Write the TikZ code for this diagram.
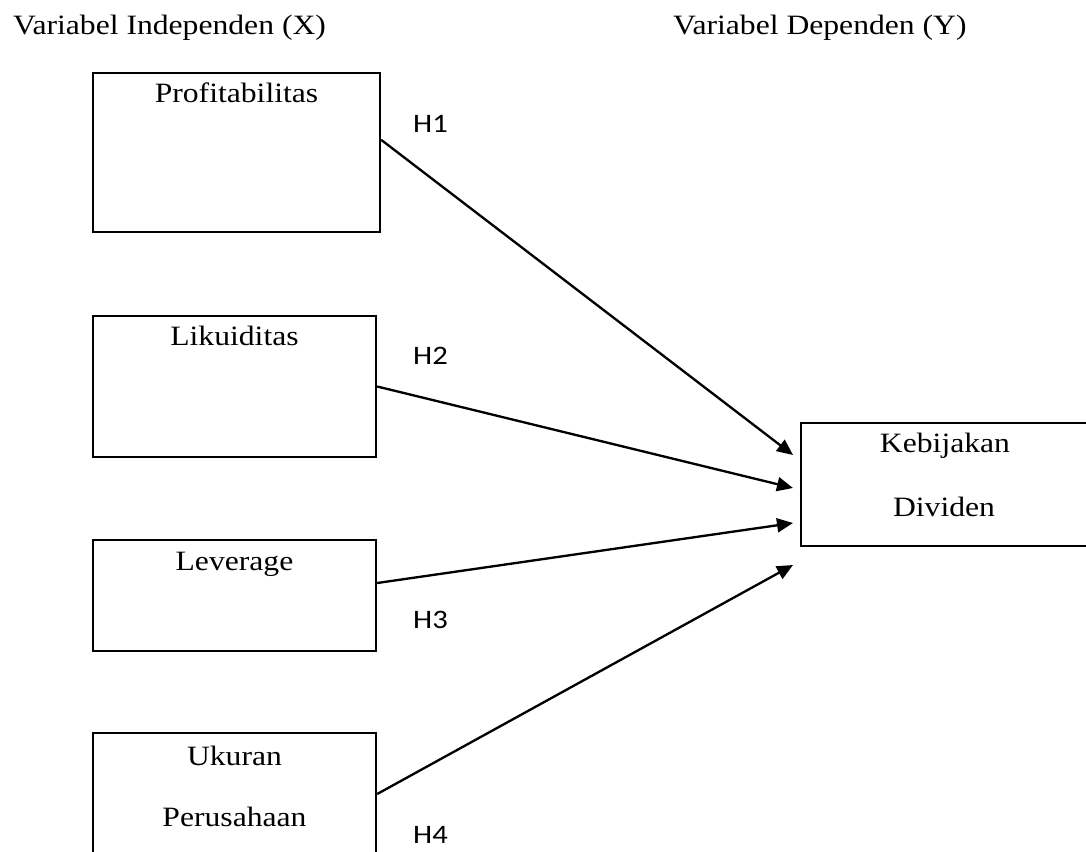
\documentclass[tikz,border=0pt]{standalone}
\usepackage{fontspec}
\setmainfont{Liberation Serif}[FakeStretch=1.13]
\newfontfamily\hypfont{Carlito}[FakeStretch=1.15]
\usetikzlibrary{arrows.meta}

\tikzset{every picture/.style={line width=1.75pt}}
\tikzset{
	varbox/.style={draw, rectangle, inner sep=0pt},
	vartext/.style={inner sep=0pt, anchor=base, font=\fontsize{21}{25}\selectfont},
	hyptext/.style={inner sep=0pt, anchor=base, font=\hypfont\fontsize{20}{24}\selectfont},
	hyparrow/.style={-{Triangle[length=12pt,width=10.5pt]}}
}

\begin{document}
\begin{tikzpicture}[x=0.75pt,y=0.75pt,yscale=-1,xscale=1]
	\useasboundingbox (0,0) rectangle (1086,852);

	%Shape: Rectangle [profitabilitas]
	\draw (236.5,152.5) node [varbox, minimum width=215.25pt, minimum height=119.25pt] (prof) {};
	%Shape: Rectangle [likuiditas]
	\draw (234.5,386.5) node [varbox, minimum width=212.25pt, minimum height=105.75pt] (liku) {};
	%Shape: Rectangle [leverage]
	\draw (234.5,595.5) node [varbox, minimum width=212.25pt, minimum height=83.25pt] (lev) {};
	%Shape: Rectangle [ukuran perusahaan]
	\draw (234.5,806.5) node [varbox, minimum width=212.25pt, minimum height=110.25pt] (ukur) {};
	%Shape: Rectangle [kebijakan dividen]
	\draw (945.5,484.5) node [varbox, minimum width=216.75pt, minimum height=92.25pt] (keb) {};

	%arrow ends, just left of the dependent box
	\coordinate (t1) at (793,455);
	\coordinate (t2) at (793,488);
	\coordinate (t3) at (793,523);
	\coordinate (t4) at (793,565);

	%Straight Lines
	\draw [hyparrow] (prof.5) -- (t1);
	%Straight Lines
	\draw [hyparrow] (liku.east) -- (t2);
	%Straight Lines
	\draw [hyparrow] (lev.5) -- (t3);
	%Straight Lines
	\draw [hyparrow] (ukur.5) -- (t4);

	% Text Node
	\draw (12,35) node [vartext, anchor=base west] (hx) {Variabel Independen (X)};
	% Text Node
	\draw (672,35) node [vartext, anchor=base west] (hy) {Variabel Dependen (Y)};
	% Text Node
	\draw (236.5,102.7) node [vartext] (lprof) {Profitabilitas};
	% Text Node
	\draw (234.5,345.7) node [vartext] (lliku) {Likuiditas};
	% Text Node
	\draw (234.5,570.7) node [vartext] (llev) {Leverage};
	% Text Node
	\draw (234.5,765) node [vartext] (lukur) {Ukuran};
	% Text Node
	\draw (234.5,826.7) node [vartext] (lper) {Perusahaan};
	% Text Node
	\draw (945,452.7) node [vartext] (lkeb) {Kebijakan};
	% Text Node
	\draw (944,516) node [vartext] (ldiv) {Dividen};
	% Text Node
	\draw (430.5,133) node [hyptext] (h1) {H1};
	% Text Node
	\draw (430.5,365) node [hyptext] (h2) {H2};
	% Text Node
	\draw (430.5,628) node [hyptext] (h3) {H3};
	% Text Node
	\draw (430.5,843) node [hyptext] (h4) {H4};

\end{tikzpicture}
\end{document}
